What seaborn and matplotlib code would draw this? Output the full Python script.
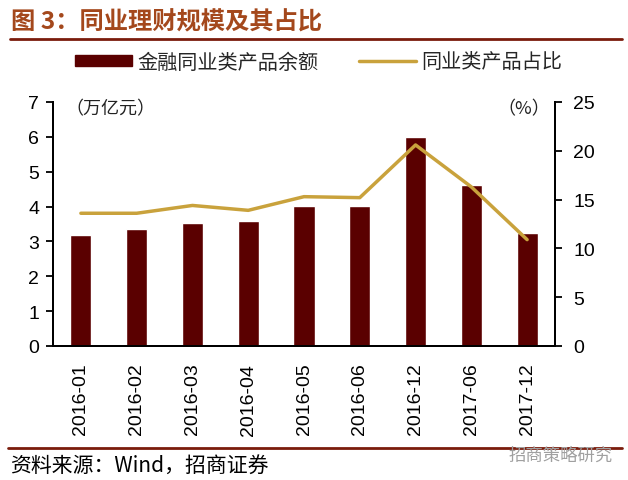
import matplotlib
matplotlib.use("Agg")
import matplotlib.pyplot as plt
import seaborn as sns
import numpy as np
import pandas as pd
from matplotlib.patches import Patch
from matplotlib.lines import Line2D

# ---- data ----
categories = ["2016-01", "2016-02", "2016-03", "2016-04", "2016-05",
              "2016-06", "2016-12", "2017-06", "2017-12"]
balance = [3.19, 3.35, 3.52, 3.59, 4.01, 4.01, 6.0, 4.61, 3.25]        # 万亿元
share = [13.6, 13.6, 14.4, 13.9, 15.3, 15.2, 20.6, 16.3, 10.9]          # %
left_ticks = [0, 1, 2, 3, 4, 5, 6, 7]
right_ticks = [0, 5, 10, 15, 20, 25]
title = "图 3：同业理财规模及其占比"
bar_label = "金融同业类产品余额"
line_label = "同业类产品占比"
left_unit = "（万亿元）"
right_unit = "（%）"
source = "资料来源：Wind，招商证券"
watermark = "招商策略研究"

sns.set_theme(style="white")
plt.rcParams['font.family'] = ['Liberation Sans', 'Noto Sans CJK SC', 'DejaVu Sans']
CJK = ['Noto Sans CJK SC', 'DejaVu Sans']

bar_color = "#5A0000"
line_color = "#C9A23C"

fig = plt.figure(figsize=(6.28, 4.81), dpi=100)
ax = fig.add_axes([53/628, 1-347/481, (555-53)/628, (347-103)/481])

df = pd.DataFrame({"cat": categories, "balance": balance, "share": share})
sns.barplot(data=df, x="cat", y="balance", color=bar_color, width=0.38,
            saturation=1, ax=ax)
ax.set_ylim(0, 7)
ax.set_yticks(left_ticks)
ax.set_xlim(-0.5, len(categories) - 0.5)
ax.set_xlabel("")
ax.set_ylabel("")

ax2 = ax.twinx()
df["pos"] = np.arange(len(categories))
sns.lineplot(data=df, x="pos", y="share", color=line_color, linewidth=2.5, ax=ax2)
ax2.set_ylim(0, 25)
ax2.set_yticks(right_ticks)
ax2.set_ylabel("")
ax2.set_xlim(-0.5, len(categories) - 0.5)

for a in (ax, ax2):
    for s in a.spines.values():
        s.set_color("black")
        s.set_linewidth(1.4)
    a.spines["top"].set_visible(False)
    a.grid(False)

ax.tick_params(axis="y", left=True, direction="out", length=5, width=1.3,
               labelsize=14, pad=5, colors="black")
ax.tick_params(axis="x", bottom=False, labelsize=14, pad=6, colors="black")
ax2.tick_params(axis="y", right=True, direction="out", length=5, width=1.3,
                labelsize=14, pad=8, colors="black")
for lab in ax.get_xticklabels():
    lab.set_rotation(90)

ax.text(0.025, 0.975, left_unit, transform=ax.transAxes, ha="left", va="center",
        fontsize=13, family=CJK, color="#222222")
ax2.text(0.99, 0.975, right_unit, transform=ax2.transAxes, ha="right", va="center",
         fontsize=13, family=CJK, color="#222222")

handles = [Patch(facecolor=bar_color, edgecolor=bar_color),
           Line2D([0], [0], color=line_color, linewidth=2.5)]
fig.legend(handles, [bar_label, line_label], loc="center", ncol=2,
           bbox_to_anchor=(0.508, 1-63/481), frameon=False,
           prop={"family": CJK, "size": 14.5}, handlelength=2.8,
           handleheight=0.5, handletextpad=0.3, columnspacing=2.0)

fig.text(0.018, 1-22/481, title, ha="left", va="center", fontsize=17.5,
         fontweight="bold", color="#A4481C", family=CJK)
fig.add_artist(Line2D([0.016, 0.99], [1-39.5/481, 1-39.5/481],
                      color="#7A1C0C", linewidth=2, transform=fig.transFigure))
fig.add_artist(Line2D([0.013, 0.99], [1-449/481, 1-449/481],
                      color="#7A1C0C", linewidth=2, transform=fig.transFigure))
fig.text(0.016, 1-466/481, source, ha="left", va="center", fontsize=15,
         color="black", family=CJK)
fig.text(0.975, 1-456/481, watermark, ha="right", va="center", fontsize=12.5,
         color="#A0A0A0", family=CJK)

fig.savefig("out.png", dpi=100)
